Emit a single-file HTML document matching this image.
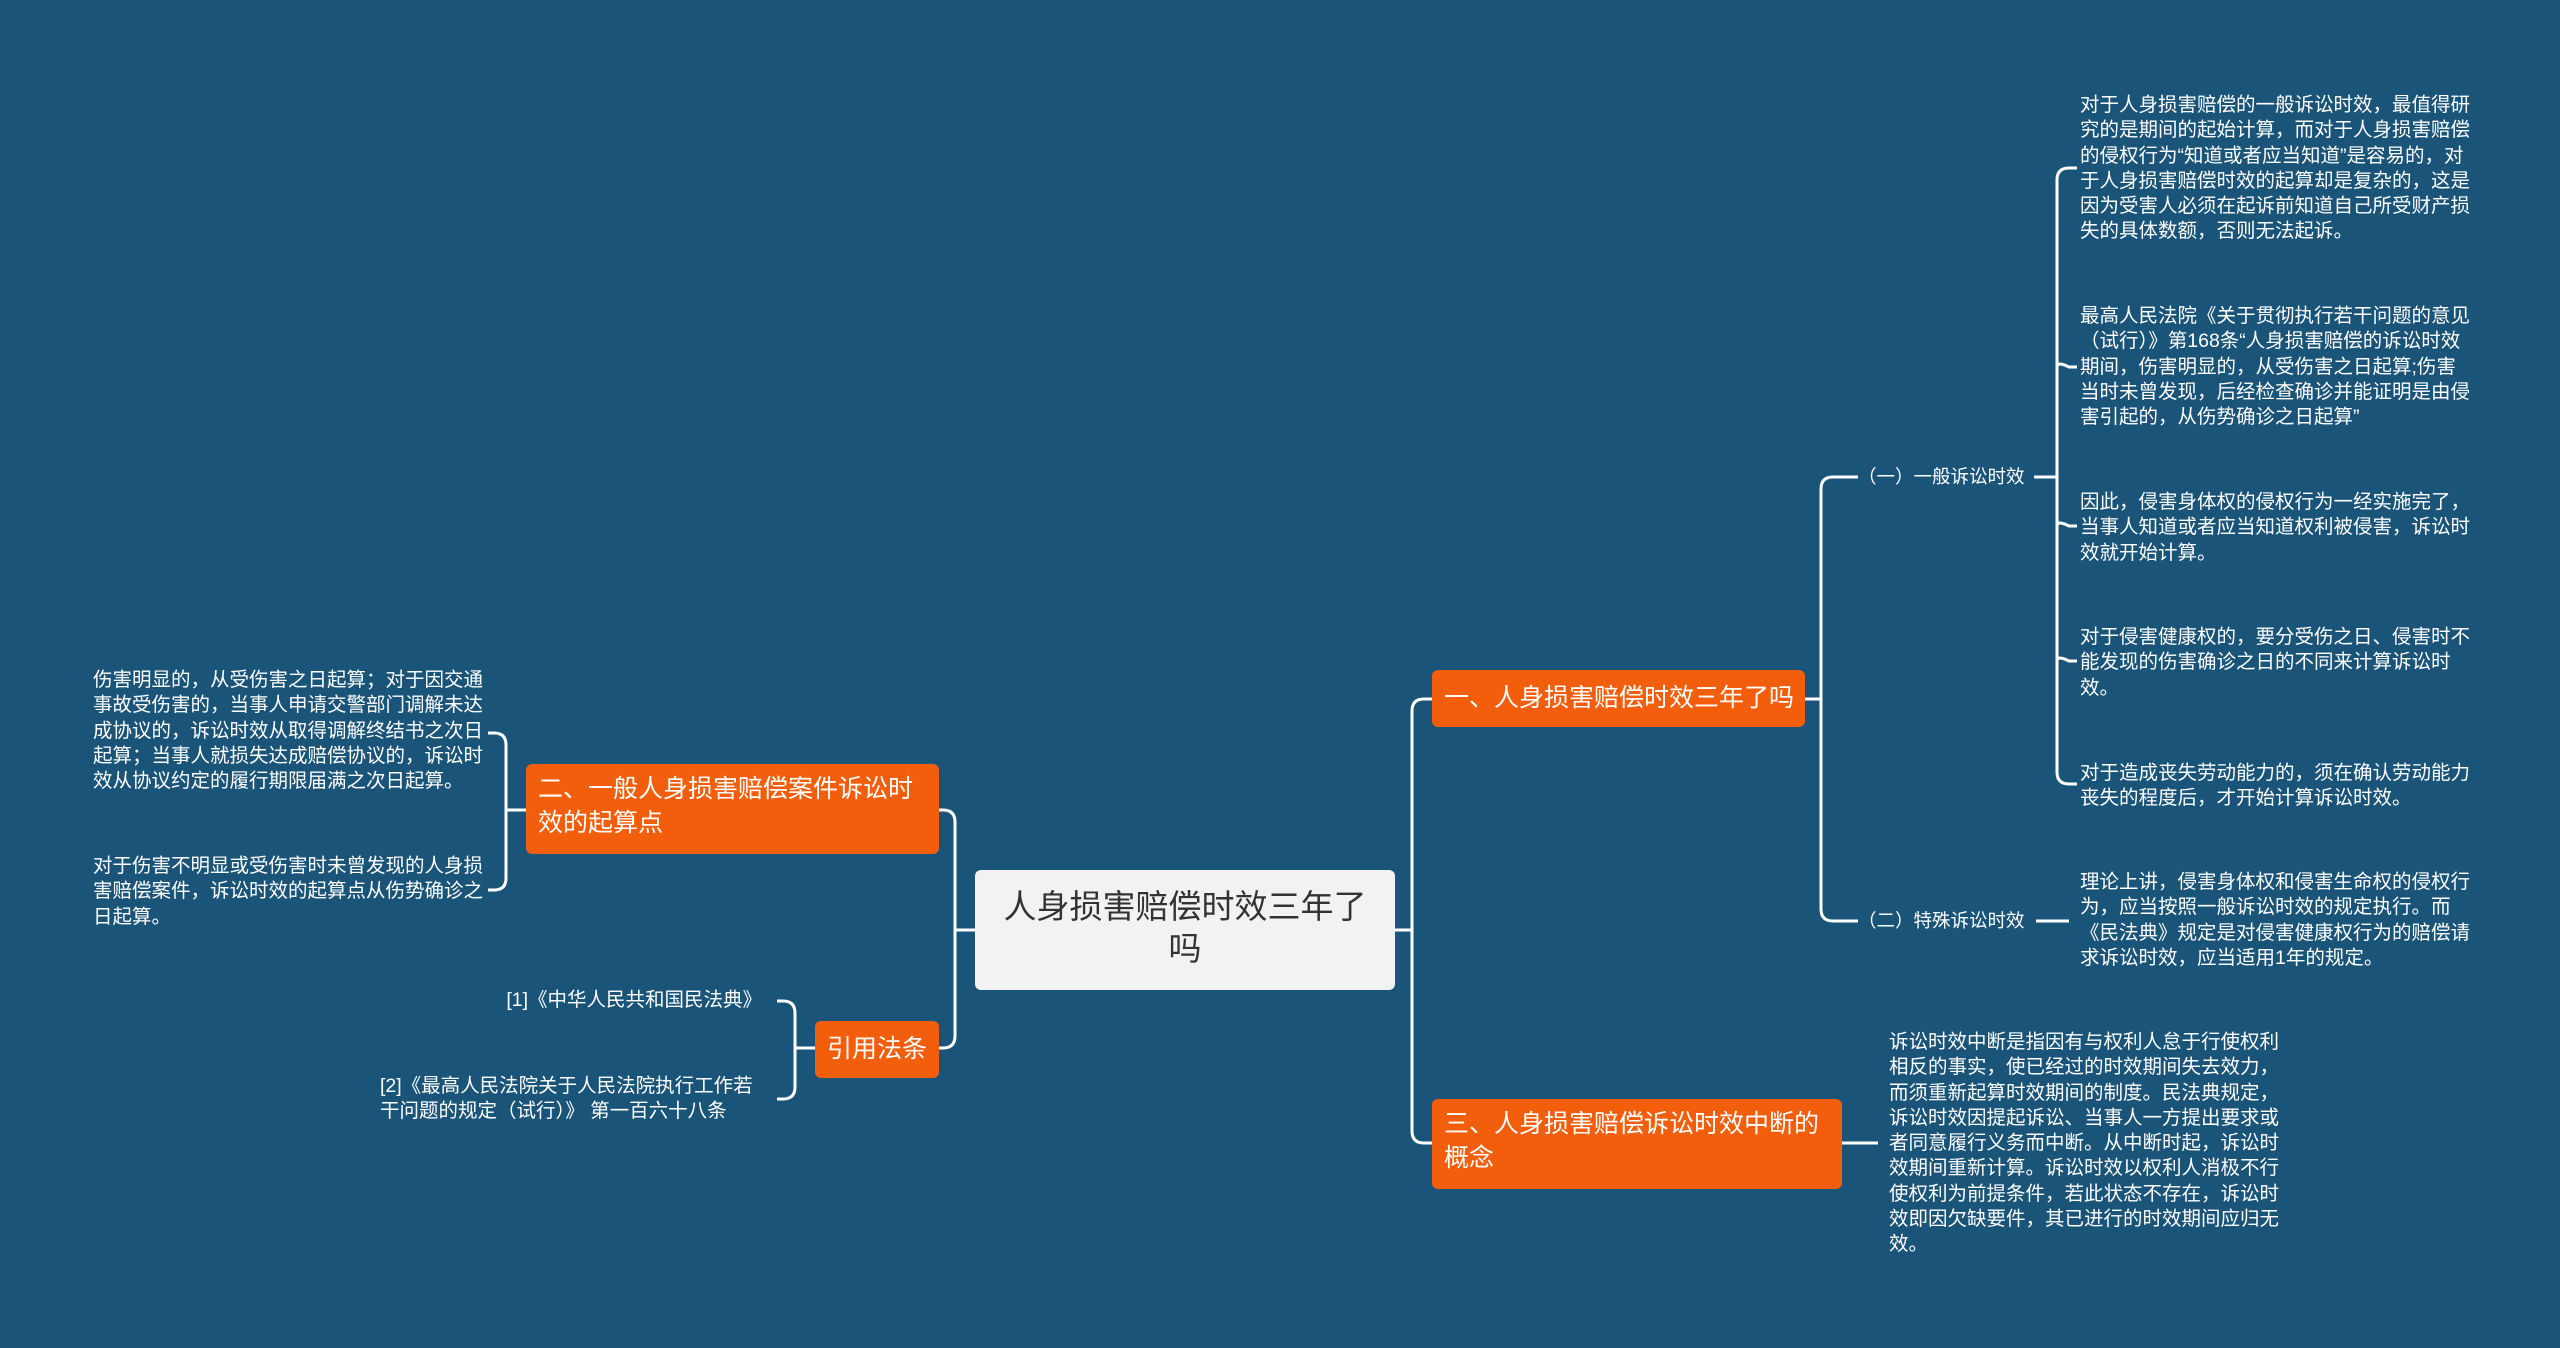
<!DOCTYPE html>
<html><head><meta charset="utf-8"><style>
html,body{margin:0;padding:0}
body{width:2560px;height:1348px;background:#1b5479;position:relative;overflow:hidden;font-family:"Liberation Sans","Noto Sans CJK SC",sans-serif;color:#fff}
.n{position:absolute;box-sizing:border-box;border-radius:6px}
.o{background:#f35e0c;color:#fff;font-size:25px;line-height:34px;padding:8px 12px;white-space:nowrap}
.t{position:absolute;font-size:19.5px;line-height:25.3px;color:#fff}
svg{position:absolute;left:0;top:0}
</style></head><body>
<svg width="2560" height="1348" fill="none" stroke="#fff" stroke-width="3">
<path d="M1395 930 H1412"/>
<path d="M1432 699 H1424 Q1412 699 1412 711 V1131 Q1412 1143 1424 1143 H1432"/>
<path d="M975 930 H955"/>
<path d="M939 810 H943 Q955 810 955 822 V1036 Q955 1048 943 1048 H939"/>
<path d="M1805 699 H1821"/>
<path d="M1858 477 H1833 Q1821 477 1821 489 V909 Q1821 921 1833 921 H1858"/>
<path d="M2034 477 H2057"/>
<path d="M2077 168 H2069 Q2057 168 2057 180 V772 Q2057 784 2069 784 H2077"/>
<path d="M2057 367 Q2057 361 2069 367 H2077" />
<path d="M2057 526 Q2057 520 2069 526 H2077"/>
<path d="M2057 661 Q2057 655 2069 661 H2077"/>
<path d="M2036 921 H2069"/>
<path d="M1842 1143 H1878"/>
<path d="M526 810 H506"/>
<path d="M488 733 H494 Q506 733 506 745 V878 Q506 890 494 890 H488"/>
<path d="M815 1048 H795"/>
<path d="M777 1001 H783 Q795 1001 795 1013 V1087 Q795 1099 783 1099 H777"/>
</svg>

<div class="n" style="left:975px;top:870px;width:420px;height:120px;background:#f2f2f2;color:#333;font-size:33px;line-height:42px;text-align:center;padding:16px 20px">人身损害赔偿时效三年了吗</div>

<div class="n o" style="left:1432px;top:670px;width:373px;height:57px;padding-top:11px">一、人身损害赔偿时效三年了吗</div>
<div class="n o" style="left:1432px;top:1099px;width:410px;height:90px">三、人身损害赔偿诉讼时效中断的<br>概念</div>
<div class="n o" style="left:526px;top:764px;width:413px;height:90px">二、一般人身损害赔偿案件诉讼时<br>效的起算点</div>
<div class="n o" style="left:815px;top:1021px;width:124px;height:57px;padding-top:11px;text-align:center;padding-left:8px;padding-right:8px">引用法条</div>

<div class="t" style="left:1858px;top:464px;white-space:nowrap;font-size:18.5px">（一）一般诉讼时效</div>
<div class="t" style="left:1858px;top:908px;white-space:nowrap;font-size:18.5px">（二）特殊诉讼时效</div>

<div class="t" style="left:2080px;top:93px;width:392px">对于人身损害赔偿的一般诉讼时效，最值得研究的是期间的起始计算，而对于人身损害赔偿的侵权行为“知道或者应当知道”是容易的，对于人身损害赔偿时效的起算却是复杂的，这是因为受害人必须在起诉前知道自己所受财产损失的具体数额，否则无法起诉。</div>
<div class="t" style="left:2080px;top:304px;width:392px">最高人民法院《关于贯彻执行若干问题的意见（试行）》第168条“人身损害赔偿的诉讼时效期间，伤害明显的，从受伤害之日起算;伤害当时未曾发现，后经检查确诊并能证明是由侵害引起的，从伤势确诊之日起算”</div>
<div class="t" style="left:2080px;top:490px;width:392px">因此，侵害身体权的侵权行为一经实施完了，当事人知道或者应当知道权利被侵害，诉讼时效就开始计算。</div>
<div class="t" style="left:2080px;top:625px;width:392px">对于侵害健康权的，要分受伤之日、侵害时不能发现的伤害确诊之日的不同来计算诉讼时效。</div>
<div class="t" style="left:2080px;top:761px;width:392px">对于造成丧失劳动能力的，须在确认劳动能力丧失的程度后，才开始计算诉讼时效。</div>
<div class="t" style="left:2080px;top:870px;width:392px">理论上讲，侵害身体权和侵害生命权的侵权行为，应当按照一般诉讼时效的规定执行。而《民法典》规定是对侵害健康权行为的赔偿请求诉讼时效，应当适用1年的规定。</div>

<div class="t" style="left:1889px;top:1030px;width:392px">诉讼时效中断是指因有与权利人怠于行使权利相反的事实，使已经过的时效期间失去效力，而须重新起算时效期间的制度。民法典规定，诉讼时效因提起诉讼、当事人一方提出要求或者同意履行义务而中断。从中断时起，诉讼时效期间重新计算。诉讼时效以权利人消极不行使权利为前提条件，若此状态不存在，诉讼时效即因欠缺要件，其已进行的时效期间应归无效。</div>

<div class="t" style="left:93px;top:668px;width:392px">伤害明显的，从受伤害之日起算；对于因交通事故受伤害的，当事人申请交警部门调解未达成协议的，诉讼时效从取得调解终结书之次日起算；当事人就损失达成赔偿协议的，诉讼时效从协议约定的履行期限届满之次日起算。</div>
<div class="t" style="left:93px;top:854px;width:392px">对于伤害不明显或受伤害时未曾发现的人身损害赔偿案件，诉讼时效的起算点从伤势确诊之日起算。</div>

<div class="t" style="left:400px;top:988px;width:362px;text-align:right">[1]《中华人民共和国民法典》</div>
<div class="t" style="left:380px;top:1074px;width:392px">[2]《最高人民法院关于人民法院执行工作若干问题的规定（试行）》 第一百六十八条</div>
</body></html>
